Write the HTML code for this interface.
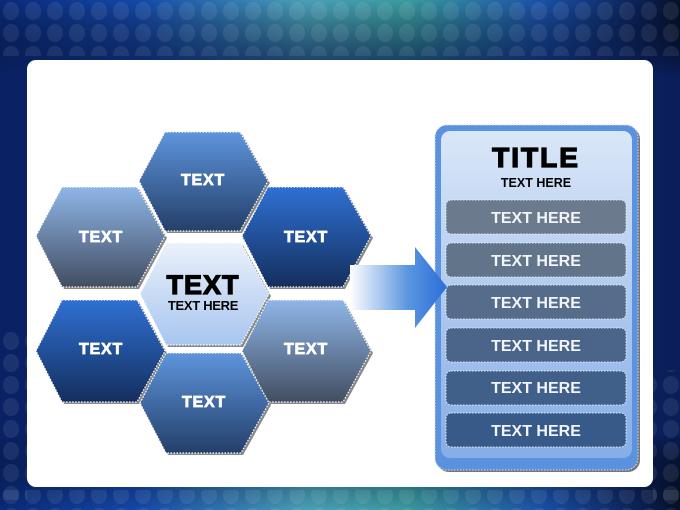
<!DOCTYPE html>
<html><head><meta charset="utf-8"><style>
html,body{margin:0;padding:0;width:680px;height:510px;overflow:hidden}
svg{display:block}
text{font-family:"Liberation Sans",Arial,sans-serif;font-weight:bold}
</style></head><body>
<svg width="680" height="510" viewBox="0 0 680 510" xmlns="http://www.w3.org/2000/svg">
<defs>
<linearGradient id="bg" x1="0" y1="0" x2="1" y2="0">
<stop offset="0" stop-color="#0a2a7a"/><stop offset="0.2" stop-color="#1448a8"/>
<stop offset="0.45" stop-color="#4aa0b8"/><stop offset="0.6" stop-color="#3a9aa0"/>
<stop offset="0.8" stop-color="#1a50a8"/><stop offset="0.95" stop-color="#0a1e50"/><stop offset="1" stop-color="#061028"/>
</linearGradient>
<linearGradient id="bgv" x1="0" y1="0" x2="0" y2="1">
<stop offset="0" stop-color="#000" stop-opacity="0"/><stop offset="0.15" stop-color="#0a2060" stop-opacity="0.85"/>
<stop offset="0.85" stop-color="#0a2060" stop-opacity="0.85"/><stop offset="1" stop-color="#000" stop-opacity="0"/>
</linearGradient>
<linearGradient id="gA" x1="0" y1="0" x2="0" y2="1"><stop offset="0" stop-color="#5e95dc"/><stop offset="1" stop-color="#243f6a"/></linearGradient>
<linearGradient id="gB" x1="0" y1="0" x2="0" y2="1"><stop offset="0" stop-color="#8fb6e8"/><stop offset="1" stop-color="#424e62"/></linearGradient>
<linearGradient id="gC" x1="0" y1="0" x2="0" y2="1"><stop offset="0" stop-color="#2f70d2"/><stop offset="1" stop-color="#142f5e"/></linearGradient>
<linearGradient id="gD" x1="0" y1="0" x2="0" y2="1"><stop offset="0" stop-color="#eaf1fb"/><stop offset="1" stop-color="#a8c6ef"/></linearGradient>
<linearGradient id="arr" x1="0" y1="0" x2="1" y2="0"><stop offset="0" stop-color="#fff"/><stop offset="0.6" stop-color="#5a95e0"/><stop offset="1" stop-color="#2a6fd8"/></linearGradient>
<linearGradient id="pan" x1="0" y1="0" x2="0" y2="1"><stop offset="0" stop-color="#dae7f8"/><stop offset="1" stop-color="#86ade6"/></linearGradient>
<pattern id="dots" width="22" height="22" patternUnits="userSpaceOnUse"><ellipse cx="11" cy="11" rx="8" ry="9" fill="#fff" opacity="0.08"/></pattern>
</defs>
<rect width="680" height="510" fill="url(#bg)"/>
<rect width="680" height="510" fill="url(#bgv)"/>
<rect x="0" y="0" width="680" height="56" fill="url(#dots)"/>
<rect x="0" y="490" width="680" height="20" fill="url(#dots)"/>
<rect x="0" y="330" width="27" height="170" fill="url(#dots)"/>
<rect x="653" y="370" width="27" height="130" fill="url(#dots)"/>
<rect x="27" y="60" width="626" height="427" rx="9" fill="#fff"/>

<g stroke="#fff" stroke-width="1.2" stroke-dasharray="1.5 1.5">
<polygon points="141,183 167,134 242,134 270,183 242,233 167,233" fill="#888" stroke="none"/>
<polygon points="139,181 165,132 240,132 268,181 240,231 165,231" fill="url(#gA)"/>
<polygon points="38,238 64,189 139,189 167,238 139,289 64,289" fill="#888" stroke="none"/>
<polygon points="36,236 62,187 137,187 165,236 137,287 62,287" fill="url(#gB)"/>
<polygon points="244,238 270,189 345,189 373,238 345,289 270,289" fill="#888" stroke="none"/>
<polygon points="242,236 268,187 343,187 371,236 343,287 268,287" fill="url(#gC)"/>
<polygon points="142,296 168,245 243,245 271,296 243,347 168,347" fill="#888" stroke="none"/>
<polygon points="140,294 166,243 241,243 269,294 241,345 166,345" fill="url(#gD)"/>
<polygon points="38,353 64,302 139,302 167,353 139,404 64,404" fill="#888" stroke="none"/>
<polygon points="36,351 62,300 137,300 165,351 137,402 62,402" fill="url(#gC)"/>
<polygon points="244,353 270,302 345,302 373,353 345,404 270,404" fill="#888" stroke="none"/>
<polygon points="242,351 268,300 343,300 371,351 343,402 268,402" fill="url(#gB)"/>
<polygon points="142,405 168,355 243,355 271,405 243,455 168,455" fill="#888" stroke="none"/>
<polygon points="140,403 166,353 241,353 269,403 241,453 166,453" fill="url(#gA)"/>
</g>
<g fill="#fff" stroke="#fff" stroke-width="0.7" font-size="16" text-anchor="middle" letter-spacing="0.8">
<text x="203" y="185">TEXT</text>
<text x="101" y="242">TEXT</text>
<text x="306" y="242">TEXT</text>
<text x="101" y="354">TEXT</text>
<text x="306" y="354">TEXT</text>
<text x="204" y="407">TEXT</text>
</g>
<text x="203" y="294" font-size="27" text-anchor="middle" fill="#000" stroke="#000" stroke-width="1.2" letter-spacing="1">TEXT</text>
<text x="203" y="310" font-size="13" text-anchor="middle" fill="#000" letter-spacing="-0.3">TEXT HERE</text>

<rect x="437" y="127" width="203" height="345" rx="12" fill="#777"/>
<rect x="435" y="125" width="203" height="345" rx="12" fill="#5a92e0" stroke="#dde" stroke-width="1" stroke-dasharray="1.5 1.5"/>
<rect x="441" y="131" width="191" height="327" rx="9" fill="url(#pan)"/>
<text x="536" y="167" font-size="28" text-anchor="middle" fill="#000" stroke="#000" stroke-width="1.3" letter-spacing="2">TITLE</text>
<text x="536" y="187" font-size="12.5" text-anchor="middle" fill="#000">TEXT HERE</text>
<g stroke="#e8eef8" stroke-width="1" stroke-dasharray="1.5 1.5">
<rect x="446" y="200" width="180" height="34" rx="5" fill="#6c7a8d"/>
<rect x="446" y="243" width="180" height="34" rx="5" fill="#627489"/>
<rect x="446" y="285" width="180" height="34" rx="5" fill="#556d8a"/>
<rect x="446" y="328" width="180" height="34" rx="5" fill="#4a6589"/>
<rect x="446" y="371" width="180" height="34" rx="5" fill="#405f89"/>
<rect x="446" y="413" width="180" height="34" rx="5" fill="#385a88"/>
</g>
<g fill="#f2f5fb" font-size="16" text-anchor="middle">
<text x="536" y="223">TEXT HERE</text>
<text x="536" y="266">TEXT HERE</text>
<text x="536" y="308">TEXT HERE</text>
<text x="536" y="351">TEXT HERE</text>
<text x="536" y="393">TEXT HERE</text>
<text x="536" y="436">TEXT HERE</text>
</g>
<polygon points="350,265 415,265 415,247 447,287 415,328 415,310 350,310" fill="url(#arr)"/>
</svg>
</body></html>
